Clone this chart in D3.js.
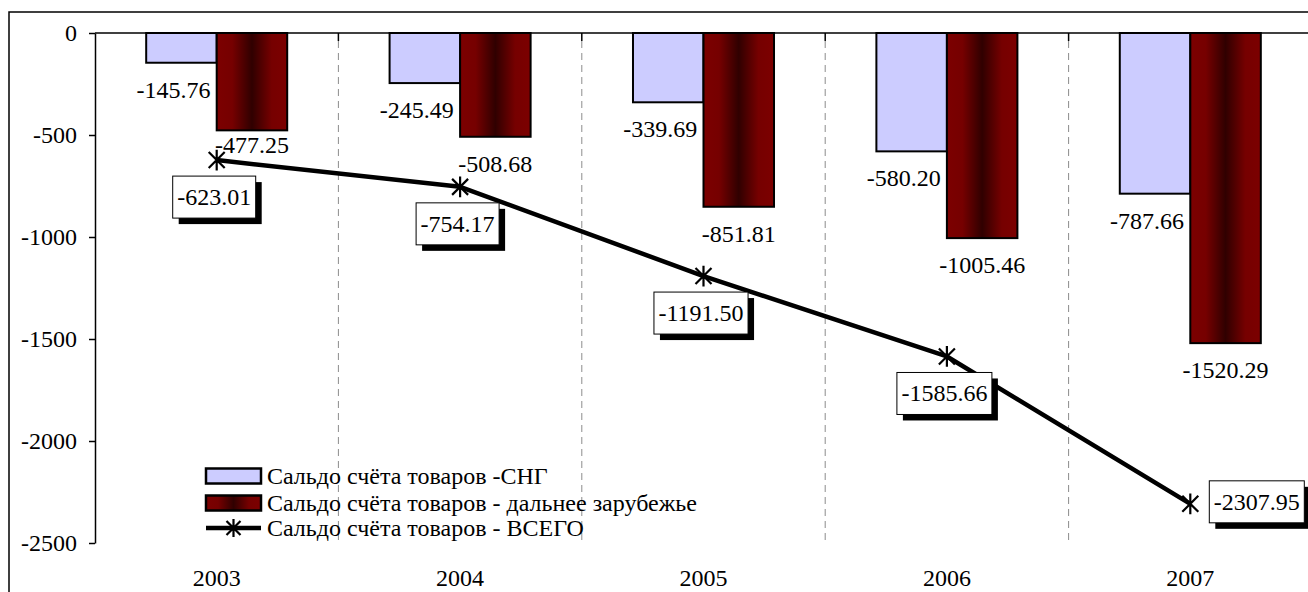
<!DOCTYPE html>
<html>
<head>
<meta charset="utf-8">
<script src="https://cdn.jsdelivr.net/npm/d3@7"></script>
<style>
  body { margin: 0; background: #fff; }
</style>
</head>
<body>
<div id="chart"></div>
<script>
const years = ["2003", "2004", "2005", "2006", "2007"];
const cisValues = [-145.76, -245.49, -339.69, -580.20, -787.66];
const farValues = [-477.25, -508.68, -851.81, -1005.46, -1520.29];
const totalValues = [-623.01, -754.17, -1191.50, -1585.66, -2307.95];
const yTicks = [0, -500, -1000, -1500, -2000, -2500];
const seriesNames = [
  "Сальдо счёта товаров -СНГ",
  "Сальдо счёта товаров - дальнее зарубежье",
  "Сальдо счёта товаров - ВСЕГО"
];

const FONT = "'Liberation Serif', 'Times New Roman', 'DejaVu Serif', serif";
const width = 1308, height = 592;
const svg = d3.select("#chart").append("svg")
  .attr("width", width)
  .attr("height", height)
  .style("font-family", FONT)
  .style("font-size", "24px");

// gradient for the dark red bars
const grad = svg.append("defs").append("linearGradient")
  .attr("id", "maroon")
  .attr("x1", "0%").attr("x2", "100%").attr("y1", "0%").attr("y2", "0%");
[[0, "#7c0000"], [0.22, "#760000"], [0.5, "#300000"], [0.78, "#760000"], [1, "#7c0000"]]
  .forEach(s => grad.append("stop").attr("offset", s[0]).attr("stop-color", s[1]));

// outer frame (runs off the right and bottom edge)
svg.append("rect")
  .attr("x", 9).attr("y", 12)
  .attr("width", 1400).attr("height", 700)
  .attr("fill", "none").attr("stroke", "#000").attr("stroke-width", 1.5);

const x0 = d3.scaleBand().domain(years).range([95, 1312]);
const x1 = d3.scaleBand().domain(["cis", "far"]).range([0, x0.bandwidth()]).paddingOuter(0.726);
const y = d3.scaleLinear().domain([-2500, 0]).range([543, 33]);

// dashed vertical gridlines between categories
svg.append("g").selectAll("line")
  .data(years.slice(1))
  .enter().append("line")
  .attr("x1", d => x0(d)).attr("x2", d => x0(d))
  .attr("y1", y(0) + 8).attr("y2", y(-2500))
  .attr("stroke", "#8c8c8c").attr("stroke-width", 1)
  .attr("stroke-dasharray", "7,5");

// y axis
const yAxis = d3.axisLeft(y).tickValues(yTicks).tickSize(6).tickSizeOuter(0).tickPadding(12)
  .tickFormat(d => String(d));
const gy = svg.append("g")
  .attr("transform", "translate(95,0)")
  .call(yAxis)
  .attr("font-family", null)
  .attr("font-size", null);
gy.select(".domain").attr("stroke-width", 1.5);
gy.selectAll(".tick line").attr("stroke-width", 1.5);
gy.selectAll("text").style("font-family", FONT).style("font-size", "24px").attr("fill", "#000");

// category axis sits at zero, tick marks between categories
svg.append("line")
  .attr("x1", 95).attr("x2", 1312)
  .attr("y1", y(0)).attr("y2", y(0))
  .attr("stroke", "#000").attr("stroke-width", 1.5);
svg.append("g").selectAll("line")
  .data(years.slice(1))
  .enter().append("line")
  .attr("x1", d => x0(d)).attr("x2", d => x0(d))
  .attr("y1", y(0)).attr("y2", y(0) + 8)
  .attr("stroke", "#000").attr("stroke-width", 1.5);
svg.append("g").selectAll("text")
  .data(years)
  .enter().append("text")
  .attr("x", d => x0(d) + x0.bandwidth() / 2)
  .attr("y", 586)
  .attr("text-anchor", "middle")
  .text(d => d);

// bars
const barData = [];
years.forEach((yr, i) => {
  barData.push({ year: yr, key: "cis", value: cisValues[i], i: i });
  barData.push({ year: yr, key: "far", value: farValues[i], i: i });
});

svg.append("g").selectAll("rect")
  .data(barData)
  .enter().append("rect")
  .attr("x", d => x0(d.year) + x1(d.key))
  .attr("y", y(0))
  .attr("width", x1.bandwidth())
  .attr("height", d => y(d.value) - y(0))
  .attr("fill", d => d.key == "cis" ? "#ccccff" : "url(#maroon)")
  .attr("stroke", "#000")
  .attr("stroke-width", 2);

// bar value labels, below the bar end; lifted when they would hit the total marker
const lineX = d => x0(d) + x0.bandwidth() / 2;
svg.append("g").selectAll("text")
  .data(barData)
  .enter().append("text")
  .attr("text-anchor", "middle")
  .attr("x", d => x0(d.year) + x1(d.key) + x1.bandwidth() / 2 + (d.key == "cis" ? -8 : 0))
  .attr("y", d => {
    let c = y(d.value) + 27;
    if (Math.abs(c - y(totalValues[d.i])) < 20) c -= 12;
    return c + 8;
  })
  .text(d => d.value.toFixed(2));

// total line
const line = d3.line()
  .x((d, i) => lineX(years[i]))
  .y(d => y(d));
svg.append("path")
  .datum(totalValues)
  .attr("d", line)
  .attr("fill", "none")
  .attr("stroke", "#000")
  .attr("stroke-width", 4.5)
  .attr("stroke-linejoin", "round");

function star(g, cx, cy, r) {
  const p = `M${cx - r},${cy - r}L${cx + r},${cy + r}M${cx - r},${cy + r}L${cx + r},${cy - r}M${cx},${cy - r * 1.3}L${cx},${cy + r * 1.3}`;
  g.append("path").attr("d", p).attr("stroke", "#000").attr("stroke-width", 2.2).attr("fill", "none");
}
const markers = svg.append("g");
totalValues.forEach((v, i) => star(markers, lineX(years[i]), y(v), 8));

// boxed labels for the total, last one to the right of the point
const boxes = svg.append("g");
totalValues.forEach((v, i) => {
  const px = lineX(years[i]), py = y(v);
  const g = boxes.append("g");
  const shadow = g.append("rect").attr("fill", "#000");
  const box = g.append("rect").attr("fill", "#fff").attr("stroke", "#000").attr("stroke-width", 1);
  const t = g.append("text").attr("text-anchor", "middle").text(v.toFixed(2));
  const w = t.node().getComputedTextLength() + 9;
  const h = 42;
  let bx, by;
  if (i == totalValues.length - 1) {
    bx = px + 19;
    by = py - h / 2 - 2;
  } else {
    bx = px - 2.5 - w / 2;
    by = py + 16;
  }
  shadow.attr("x", bx + 6).attr("y", by + 6).attr("width", w).attr("height", h);
  box.attr("x", bx).attr("y", by).attr("width", w).attr("height", h);
  t.attr("x", bx + w / 2).attr("y", by + h / 2 + 8);
});

// legend
const legend = svg.append("g").attr("transform", "translate(206,0)");
const rowY = [476, 503, 528];
legend.append("rect").attr("x", 0).attr("y", rowY[0] - 7.5).attr("width", 55).attr("height", 15)
  .attr("fill", "#ccccff").attr("stroke", "#000").attr("stroke-width", 2.5);
legend.append("rect").attr("x", 0).attr("y", rowY[1] - 7.5).attr("width", 55).attr("height", 15)
  .attr("fill", "url(#maroon)").attr("stroke", "#000").attr("stroke-width", 2.5);
legend.append("line").attr("x1", 0).attr("x2", 55).attr("y1", rowY[2]).attr("y2", rowY[2])
  .attr("stroke", "#000").attr("stroke-width", 4.5);
star(legend, 27.5, rowY[2], 7);
legend.selectAll("text.leg")
  .data(seriesNames)
  .enter().append("text")
  .attr("class", "leg")
  .attr("x", 61)
  .attr("y", (d, i) => rowY[i] + 8)
  .text(d => d);
</script>
</body>
</html>
